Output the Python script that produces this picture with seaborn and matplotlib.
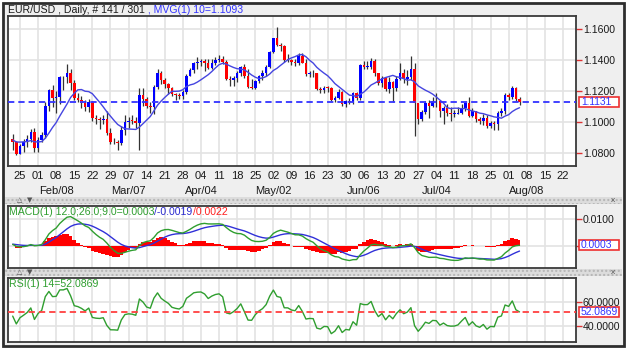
import numpy as np
import pandas as pd
import matplotlib
matplotlib.use("Agg")
import matplotlib.pyplot as plt
import matplotlib.transforms as mtransforms
from matplotlib.patches import Rectangle
import seaborn as sns

# ---------------- data ----------------
first_day, last_day = "2016-01-21", "2016-08-04"

# closes before the visible window (indicator warm-up)
prior_close = [
    1.1108, 1.1017, 1.1055, 1.1047, 1.0924, 1.0975, 1.1006,
    1.1014, 1.0957, 1.0864, 1.0879, 1.0738, 1.0752, 1.0725, 1.0729, 1.0815, 1.0769,
    1.0685, 1.0643, 1.0657, 1.0732, 1.0645, 1.0634, 1.0644, 1.0624, 1.0612, 1.0592,
    1.0565, 1.0632, 1.0613, 1.0940, 1.0884, 1.0836, 1.0894, 1.1021, 1.0992, 1.0989,
    1.0992, 1.0936, 1.0911, 1.0830, 1.0866, 1.0916, 1.0951, 1.0916, 1.0966,
    1.0970, 1.0935, 1.0931, 1.0860, 1.0826, 1.0748, 1.0781, 1.0931, 1.0921,
    1.0859, 1.0854, 1.0875, 1.0868, 1.0917, 1.0890, 1.0900, 1.0889,
]

open_ = [
    1.0889, 1.0873,
    1.0797, 1.0848, 1.0870, 1.0894, 1.0937,
    1.0830, 1.0887, 1.0919, 1.1107, 1.1207,
    1.1157, 1.1162, 1.1290, 1.1290, 1.1320,
    1.1255, 1.1154, 1.1144, 1.1125, 1.1098,
    1.1132, 1.1027, 1.1018, 1.1015, 1.1022,
    1.0932, 1.0871, 1.0870, 1.0866, 1.0950,
    1.1003, 1.1010, 1.1007, 1.0997, 1.1178,
    1.1151, 1.1106, 1.1095, 1.1228, 1.1319,
    1.1269, 1.1243, 1.1221, 1.1183, 1.1173,
    1.1167, 1.1196, 1.1297, 1.1335, 1.1380,
    1.1390, 1.1393, 1.1380, 1.1350, 1.1379,
    1.1398, 1.1406, 1.1389, 1.1277, 1.1269,
    1.1287, 1.1314, 1.1356, 1.1298, 1.1224,
    1.1222, 1.1266, 1.1298, 1.1319, 1.1357,
    1.1453, 1.1543, 1.1496, 1.1489, 1.1404,
    1.1403, 1.1385, 1.1379, 1.1429, 1.1382,
    1.1311, 1.1316, 1.1314, 1.1216, 1.1205,
    1.1223, 1.1221, 1.1142, 1.1158, 1.1194,
    1.1116, 1.1137, 1.1131, 1.1188, 1.1153,
    1.1367, 1.1357, 1.1358, 1.1396, 1.1314,
    1.1251, 1.1283, 1.1213, 1.1259, 1.1220,
    1.1276, 1.1317, 1.1277, 1.1294, 1.1343,
    1.1122, 1.1022, 1.1066, 1.1124, 1.1105,
    1.1139, 1.1135, 1.1073, 1.1094, 1.1060,
    1.1052, 1.1053, 1.1062, 1.1093, 1.1122,
    1.1041, 1.1069, 1.1023, 1.1006, 1.1027,
    1.0974, 1.0994, 1.0990, 1.1061, 1.1071,
    1.1174, 1.1163, 1.1223, 1.1150,
]
high = [
    1.0925, 1.0880,
    1.0858, 1.0890, 1.0920, 1.0955, 1.0960,
    1.0905, 1.0935, 1.1130, 1.1216, 1.1240,
    1.1200, 1.1295, 1.1300, 1.1377, 1.1340,
    1.1270, 1.1190, 1.1170, 1.1140, 1.1150,
    1.1135, 1.1045, 1.1030, 1.1045, 1.1070,
    1.0960, 1.0900, 1.0885, 1.0975, 1.1045,
    1.1030, 1.1045, 1.1030, 1.1218, 1.1218,
    1.1160, 1.1130, 1.1240, 1.1340, 1.1330,
    1.1285, 1.1255, 1.1230, 1.1190, 1.1185,
    1.1210, 1.1310, 1.1350, 1.1390, 1.1420,
    1.1410, 1.1410, 1.1410, 1.1410, 1.1420,
    1.1435, 1.1425, 1.1400, 1.1300, 1.1300,
    1.1330, 1.1365, 1.1375, 1.1340, 1.1280,
    1.1275, 1.1305, 1.1335, 1.1370, 1.1460,
    1.1545, 1.1616, 1.1510, 1.1495, 1.1440,
    1.1410, 1.1410, 1.1445, 1.1445, 1.1410,
    1.1330, 1.1335, 1.1320, 1.1230, 1.1235,
    1.1235, 1.1230, 1.1170, 1.1215, 1.1200,
    1.1145, 1.1155, 1.1195, 1.1195, 1.1375,
    1.1395, 1.1395, 1.1415, 1.1405, 1.1320,
    1.1300, 1.1290, 1.1290, 1.1265, 1.1295,
    1.1380, 1.1345, 1.1335, 1.1427, 1.1380,
    1.1125, 1.1080, 1.1135, 1.1140, 1.1165,
    1.1185, 1.1145, 1.1105, 1.1120, 1.1095,
    1.1080, 1.1095, 1.1120, 1.1130, 1.1165,
    1.1090, 1.1075, 1.1030, 1.1055, 1.1045,
    1.1005, 1.1010, 1.1070, 1.1090, 1.1185,
    1.1190, 1.1234, 1.1230, 1.1160,
]
low = [
    1.0818, 1.0787,
    1.0792, 1.0810, 1.0840, 1.0874, 1.0810,
    1.0810, 1.0870, 1.0900, 1.1070, 1.1100,
    1.1060, 1.1120, 1.1210, 1.1255, 1.1210,
    1.1140, 1.1128, 1.1090, 1.1075, 1.1065,
    1.1005, 1.0988, 1.0955, 1.0990, 1.0915,
    1.0860, 1.0860, 1.0820, 1.0855, 1.0920,
    1.0960, 1.0990, 1.0960, 1.0822, 1.1105,
    1.1090, 1.1058, 1.1055, 1.1215, 1.1245,
    1.1220, 1.1180, 1.1170, 1.1143, 1.1150,
    1.1150, 1.1180, 1.1295, 1.1320, 1.1345,
    1.1360, 1.1330, 1.1345, 1.1340, 1.1370,
    1.1385, 1.1375, 1.1270, 1.1235, 1.1235,
    1.1260, 1.1300, 1.1285, 1.1220, 1.1215,
    1.1215, 1.1255, 1.1275, 1.1300, 1.1350,
    1.1445, 1.1490, 1.1460, 1.1390, 1.1385,
    1.1370, 1.1360, 1.1370, 1.1380, 1.1300,
    1.1290, 1.1290, 1.1210, 1.1185, 1.1190,
    1.1195, 1.1135, 1.1130, 1.1150, 1.1105,
    1.1100, 1.1120, 1.1115, 1.1145, 1.1140,
    1.1340, 1.1340, 1.1340, 1.1300, 1.1240,
    1.1230, 1.1200, 1.1190, 1.1130, 1.1200,
    1.1270, 1.1250, 1.1240, 1.1275, 1.0912,
    1.0985, 1.1005, 1.1055, 1.1025, 1.1095,
    1.1100, 1.1030, 1.0985, 1.1040, 1.1005,
    1.1030, 1.1050, 1.1050, 1.1070, 1.1030,
    1.1035, 1.1000, 1.0990, 1.0980, 1.0960,
    1.0965, 1.0952, 1.0950, 1.1040, 1.1050,
    1.1145, 1.1150, 1.1135, 1.1110,
]
close = [
    1.0873, 1.0797,
    1.0848, 1.0870, 1.0894, 1.0937, 1.0830,
    1.0887, 1.0919, 1.1107, 1.1207, 1.1157,
    1.1162, 1.1290, 1.1290, 1.1320, 1.1255,
    1.1154, 1.1144, 1.1125, 1.1098, 1.1132,
    1.1027, 1.1018, 1.1015, 1.1022, 1.0932,
    1.0871, 1.0870, 1.0866, 1.0950, 1.1003,
    1.1010, 1.1007, 1.0997, 1.1178, 1.1151,
    1.1106, 1.1095, 1.1228, 1.1319, 1.1269,
    1.1243, 1.1221, 1.1183, 1.1173, 1.1167,
    1.1196, 1.1297, 1.1335, 1.1380, 1.1390,
    1.1393, 1.1380, 1.1350, 1.1379, 1.1398,
    1.1406, 1.1389, 1.1277, 1.1269, 1.1287,
    1.1314, 1.1356, 1.1298, 1.1224, 1.1222,
    1.1266, 1.1298, 1.1319, 1.1357, 1.1453,
    1.1543, 1.1496, 1.1489, 1.1404, 1.1403,
    1.1385, 1.1379, 1.1429, 1.1382, 1.1311,
    1.1316, 1.1314, 1.1216, 1.1205, 1.1223,
    1.1221, 1.1142, 1.1158, 1.1194, 1.1116,
    1.1137, 1.1131, 1.1188, 1.1153, 1.1367,
    1.1357, 1.1358, 1.1396, 1.1314, 1.1251,
    1.1283, 1.1213, 1.1259, 1.1220, 1.1276,
    1.1317, 1.1277, 1.1294, 1.1343, 1.1122,
    1.1022, 1.1066, 1.1124, 1.1105, 1.1139,
    1.1135, 1.1073, 1.1094, 1.1060, 1.1052,
    1.1053, 1.1062, 1.1093, 1.1122, 1.1041,
    1.1069, 1.1023, 1.1006, 1.1027, 1.0974,
    1.0994, 1.0990, 1.1061, 1.1071, 1.1174,
    1.1163, 1.1223, 1.1150, 1.1131,
]

# latest indicator readings shown in the pane captions
macd_last = 0.0003
signal_last = -0.0019
hist_last = 0.0022
rsi_last = 52.0869

week_start, week_end = "2016-01-25", "2016-08-22"
week_labels = ["25", "01", "08", "15", "22", "29", "07", "14", "21", "28",
               "04", "11", "18", "25", "02", "09", "16", "23", "30", "06",
               "13", "20", "27", "04", "11", "18", "25", "01", "08", "15", "22"]
month_days = ["2016-02-08", "2016-03-07", "2016-04-04", "2016-05-02",
              "2016-06-06", "2016-07-04", "2016-08-08"]
month_labels = ["Feb/08", "Mar/07", "Apr/04", "May/02", "Jun/06", "Jul/04", "Aug/08"]

price_ticks = [1.08, 1.10, 1.12, 1.14, 1.16]
macd_ticks = [0.0, 0.01]
rsi_ticks = [40, 60]

# ---------------- derived series ----------------
days = pd.bdate_range(first_day, last_day)
xpos = np.busday_count(week_start, days.values.astype("datetime64[D]"))
week_days = pd.date_range(week_start, week_end, freq="W-MON")
week_pos = np.busday_count(week_start, week_days.values.astype("datetime64[D]"))
month_pos = np.busday_count(week_start, np.array(month_days, dtype="datetime64[D]"))

o = np.array(open_); h = np.array(high); l = np.array(low); c = np.array(close)
n = len(c)
all_close = pd.Series(prior_close + close)
ma10 = all_close.rolling(10).mean().values[-n:]
ema12 = all_close.ewm(span=12, adjust=False).mean()
ema26 = all_close.ewm(span=26, adjust=False).mean()
macd_s = ema12 - ema26
sig_s = macd_s.ewm(span=9, adjust=False).mean()
macd = macd_s.values[-n:]
sig = sig_s.values[-n:]
hist = macd - sig
d = all_close.diff()
up_avg = d.clip(lower=0).ewm(alpha=1 / 14, adjust=False).mean()
dn_avg = (-d.clip(upper=0)).ewm(alpha=1 / 14, adjust=False).mean()
rsi = (100 - 100 / (1 + up_avg / dn_avg)).values[-n:]

# ---------------- figure ----------------
sns.set_style("white")
plt.rcParams["font.family"] = ["Liberation Sans", "DejaVu Sans"]

W, H = 628, 350
fig = plt.figure(figsize=(W / 100, H / 100), dpi=100, facecolor="white")
PIX = mtransforms.IdentityTransform()


def px_axes(x0, y0, x1, y1):
    return fig.add_axes([x0 / W, 1 - y1 / H, (x1 - x0) / W, (y1 - y0) / H])


# outer frame
fig.add_artist(Rectangle((3, 4), 621, 343, transform=PIX, fc="#efefef",
                         ec="#2e2e2e", lw=2, zorder=-10))

BLUE = "#3333ff"
RED = "#ff2020"
GREEN = "#2f9e2f"
TICK_RED = "#dd3333"
FS = 7.6


def style_axes(a, ticks, labels):
    a.set_facecolor("white")
    for s in a.spines.values():
        s.set_color("#3a3a3a")
        s.set_linewidth(1.3)
    a.set_axisbelow(True)
    a.set_xticks(week_pos)
    a.set_yticks(ticks)
    a.set_yticklabels(labels)
    a.grid(True, color="#e3e3e3", lw=1.2)
    a.yaxis.tick_right()
    a.tick_params(axis="y", direction="out", length=4, width=1, color=TICK_RED,
                  labelsize=FS, labelcolor="#1a1a1a", pad=1)
    a.set_xlim(-3.3, 153.6)
    a.set_xlabel("")
    a.set_ylabel("")


# ---- price panel ----
ax = px_axes(8, 16, 576, 166)
body_lo = np.minimum(o, c)
body_h = np.maximum(np.abs(c - o), 0.0004)
colors = np.where(c >= o, "#0000ff", "#ff0000")
ax.vlines(xpos, l, h, color="#333333", lw=0.9, zorder=2)
ax.bar(xpos, body_h, bottom=body_lo, width=0.72, color=colors, lw=0, zorder=3)
sns.lineplot(x=xpos, y=ma10, ax=ax, color="#4545e0", lw=1.0, zorder=4)
ax.axhline(c[-1], color=BLUE, lw=1.3, ls=(0, (3.5, 2.2)), zorder=5)
style_axes(ax, price_ticks, [f"{t:.4f}" for t in price_ticks])
ax.set_ylim(1.0717, 1.1685)
ax.set_xticklabels(week_labels)
ax.tick_params(axis="x", direction="out", length=2, width=1, color=TICK_RED,
               labelsize=8, labelcolor="#1a1a1a", pad=1.6)
tr = mtransforms.blended_transform_factory(ax.transData, ax.transAxes)
for p, lab in zip(month_pos, month_labels):
    ax.text(p, -0.17, lab, transform=tr, ha="center", va="center",
            fontsize=8, color="#1a1a1a")

# ---- MACD panel ----
ax2 = px_axes(8, 206, 576, 268)
ax2.fill_between(xpos, hist, 0, color="#ff0000", lw=0, step="mid", zorder=2)
sns.lineplot(x=xpos, y=sig, ax=ax2, color="#3030d8", lw=1.0, zorder=3)
sns.lineplot(x=xpos, y=macd, ax=ax2, color=GREEN, lw=1.0, zorder=4)
style_axes(ax2, macd_ticks, ["", "0.0100"])
ax2.set_ylim(-0.0082, 0.0147)
ax2.tick_params(axis="x", length=0, labelbottom=False)

# ---- RSI panel ----
ax3 = px_axes(8, 278, 576, 342)
sns.lineplot(x=xpos, y=rsi, ax=ax3, color=GREEN, lw=1.0, zorder=3)
ax3.axhline(rsi_last, color="#ff4040", lw=1.3, ls=(0, (3.5, 2.2)), zorder=4)
style_axes(ax3, rsi_ticks, [f"{t:.4f}" for t in rsi_ticks])
ax3.set_ylim(26.4, 80.7)
ax3.tick_params(axis="x", length=0, labelbottom=False)


# ---- value boxes on the right ----
def value_box(a, val, txt):
    yd = a.transData.transform((0, val))[1]
    fig.add_artist(Rectangle((579, yd - 5), 40, 10, transform=PIX, fc="white",
                             ec="#ee3030", lw=1.2, zorder=20))
    fig.text(581 / W, (yd - 0.5) / H, txt, color=BLUE, fontsize=7.4,
             va="center", ha="left", zorder=21)


value_box(ax, c[-1], f"{c[-1]:.4f}")
value_box(ax2, macd_last, f"{macd_last:.4f}")
value_box(ax3, rsi_last, f"{rsi_last:.4f}")


# ---- multi-coloured captions ----
def caption(x_px, y_px, parts, size=FS):
    renderer = fig.canvas.get_renderer()
    x = x_px
    for s, col in parts:
        t = fig.text(x / W, 1 - y_px / H, s, color=col, fontsize=size,
                     va="center", ha="left", zorder=30)
        x += t.get_window_extent(renderer=renderer).width


caption(8, 10, [("EUR/USD , Daily, # 141 / 301", "#1a1a1a"),
                (f" , MVG(1) 10={ma10[-1]:.4f}", BLUE)])
caption(9, 212, [(f"MACD(1) 12.0;26.0;9.0={macd_last:.4f}", GREEN),
                 (f"/{signal_last:.4f}", "#2a2ad0"),
                 (f"/{hist_last:.4f}", RED)])
caption(9, 284, [(f"RSI(1) 14={rsi_last:.4f}", GREEN)])

# ---- pane separators ----
for y0 in (197, 269):
    fig.add_artist(Rectangle((5, H - y0 - 7), 617, 7, transform=PIX,
                             fc="#dcdcdc", ec="#b5b5b5", lw=0, hatch="....",
                             zorder=10))
    fig.text(17 / W, 1 - (y0 + 3) / H, "\u25b3", fontsize=5, color="#555555",
             family="DejaVu Sans", va="center", ha="left", zorder=11)
    fig.text(27 / W, 1 - (y0 + 3) / H, "\u25bc", fontsize=5, color="#555555",
             family="DejaVu Sans", va="center", ha="left", zorder=11)
    fig.text(611 / W, 1 - (y0 + 4) / H, "x", fontsize=6, color="#555555",
             va="center", ha="left", zorder=11)

fig.savefig("out.png", dpi=100, facecolor=fig.get_facecolor())
